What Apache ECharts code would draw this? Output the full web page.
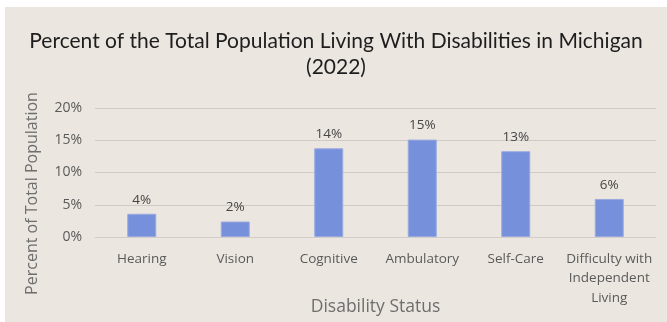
<!DOCTYPE html>
<html><head><meta charset="utf-8">
<script src="https://cdn.jsdelivr.net/npm/echarts@6/dist/echarts.min.js"></script>
<style>html,body{margin:0;padding:0;background:#fff;}#c{position:absolute;left:5px;top:7px;width:662px;height:315px;}</style>
</head><body><div id="c"></div>
<script>
const categories = ["Hearing","Vision","Cognitive","Ambulatory","Self-Care","Difficulty with\nIndependent\nLiving"];
const values = [3.6, 2.4, 13.75, 15.1, 13.3, 5.9];
const yTicks = [0, 5, 10, 15, 20];
const chart = echarts.init(document.getElementById('c'));
const font = '"Open Sans", sans-serif';
chart.setOption({
  backgroundColor: '#ebe6e0',
  animation: false,
  title: {
    text: 'Percent of the Total Population Living With Disabilities in Michigan\n(2022)',
    left: 'center', top: 16,
    textStyle: {fontFamily: 'Lato, sans-serif', fontSize: 21, fontWeight: 'normal', color: '#1e1e1e', lineHeight: 26}
  },
  grid: {left: 90, right: 11, top: 101, bottom: 85},
  xAxis: {
    type: 'category', data: categories,
    name: 'Disability Status', nameLocation: 'middle', nameGap: 61, nameMoveOverlap: false,
    nameTextStyle: {fontFamily: font, fontSize: 17.5, color: '#6e6e6e'},
    axisLine: {show: true, lineStyle: {color: '#d2cdc8', width: 1}},
    axisTick: {show: false},
    axisLabel: {fontFamily: font, fontSize: 13.5, color: '#5a5a5a', margin: 12, lineHeight: 19.5, interval: 0}
  },
  yAxis: {
    type: 'value', min: yTicks[0], max: yTicks[yTicks.length-1], interval: 5,
    name: 'Percent of Total Population', nameLocation: 'middle', nameGap: 55, nameMoveOverlap: false,
    nameTextStyle: {fontFamily: font, fontSize: 16, color: '#6e6e6e', padding: [0, 42, 0, 0]},
    axisLine: {show: false}, axisTick: {show: false},
    splitLine: {lineStyle: {color: '#cfcac5', width: 1}},
    axisLabel: {fontFamily: font, fontSize: 14, color: '#5a5a5a', margin: 13, formatter: v => v + '%'}
  },
  series: [{
    type: 'bar', data: values, barWidth: 29,
    itemStyle: {color: '#7690dc', borderColor: '#9aaadf', borderWidth: 1},
    label: {show: true, position: 'top', distance: 7, fontFamily: font, fontSize: 13.5, color: '#454545',
      formatter: p => Math.round(p.value) + '%'}
  }]
});
</script></body></html>
